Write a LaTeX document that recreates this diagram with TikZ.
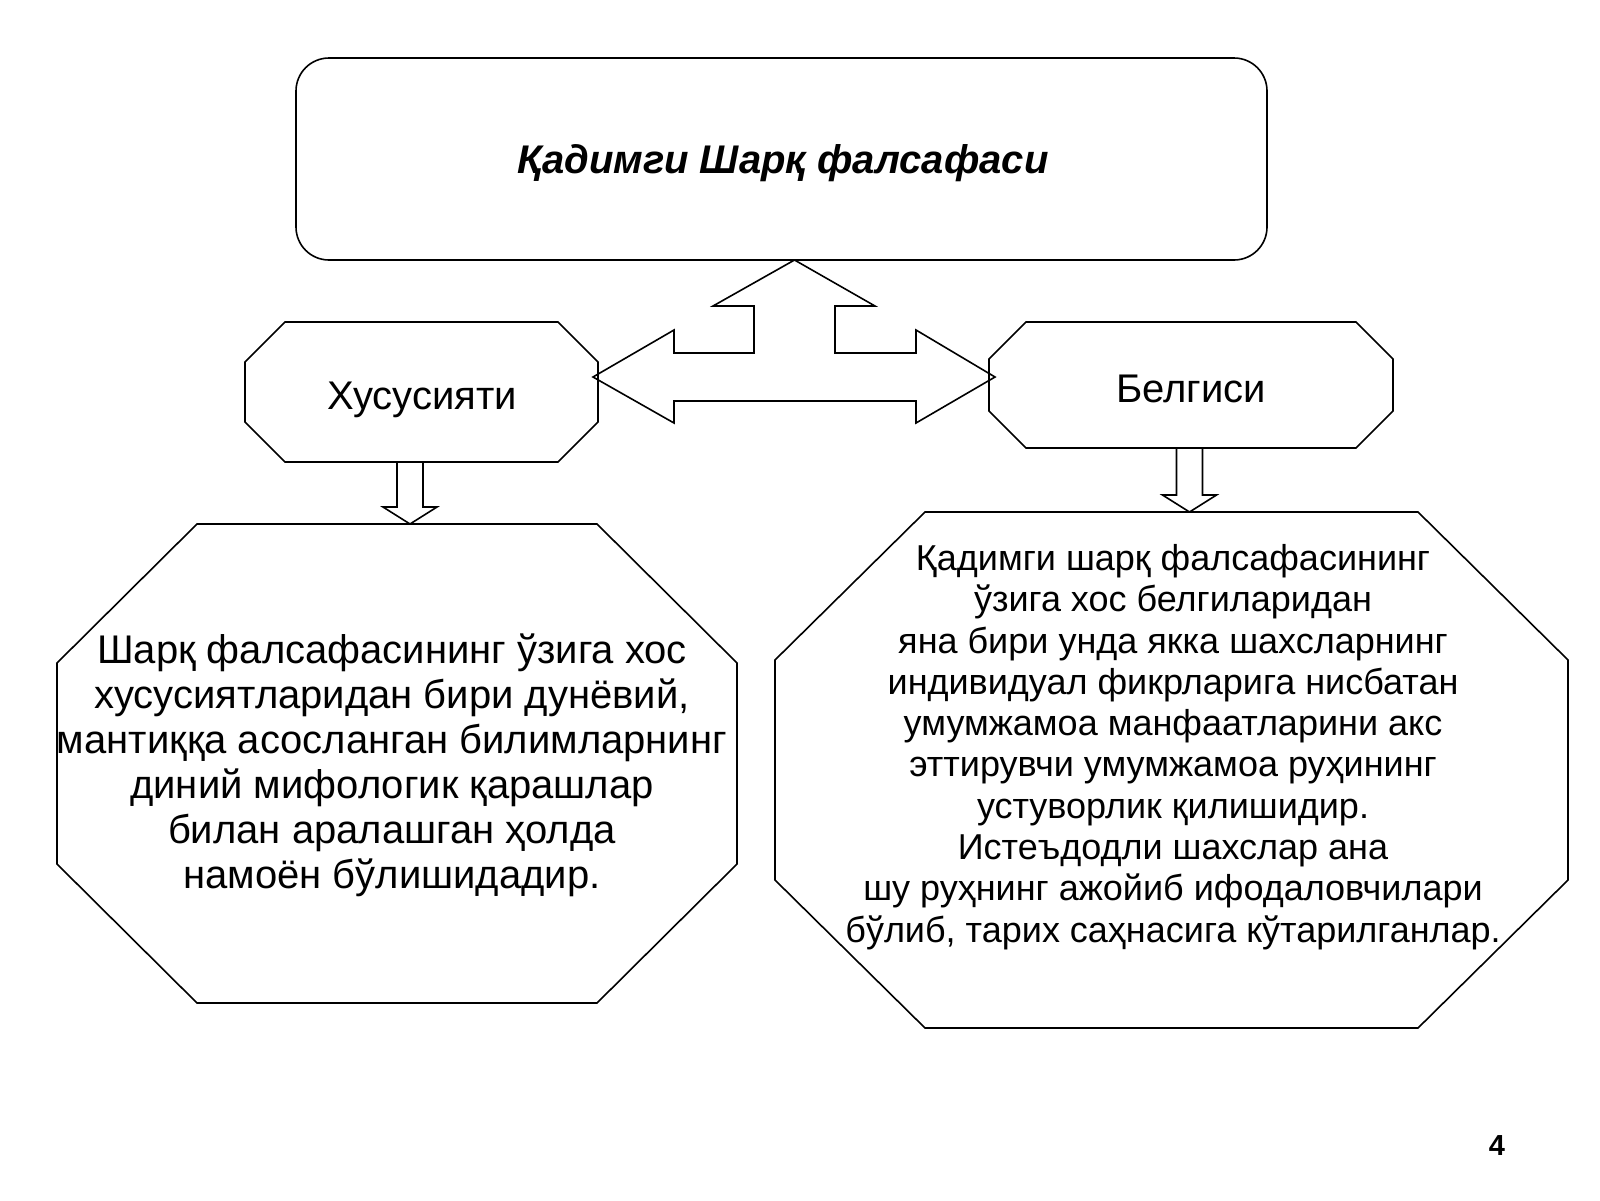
\documentclass[tikz,border=0pt]{standalone}
\usepackage{fontspec}
\setmainfont{Liberation Sans}
\usetikzlibrary{calc}
\tikzset{
  shapeline/.style={draw=black, line width=1.6pt, line join=miter},
  frame/.style={rectangle, inner sep=0pt, outer sep=0pt},
  bigtxt/.style={align=center, inner sep=0pt, font=\fontsize{40}{45}\selectfont},
  smalltxt/.style={align=center, inner sep=0pt, font=\fontsize{36}{41.3}\selectfont},
}
% octagon outline around a named frame node: #1 node, #2 horizontal cut, #3 vertical cut
\newcommand\octoline[3]{%
  \draw[shapeline] ($(#1.north west)+(#2,0)$) -- ($(#1.north east)+(-#2,0)$)
    -- ($(#1.north east)+(0,#3)$) -- ($(#1.south east)+(0,-#3)$)
    -- ($(#1.south east)+(-#2,0)$) -- ($(#1.south west)+(#2,0)$)
    -- ($(#1.south west)+(0,-#3)$) -- ($(#1.north west)+(0,#3)$) -- cycle;}
% hollow block arrow pointing down from #1 to #2
\newcommand\blockdn[2]{%
  \draw[shapeline] ($(#1)+(-13,0)$) -- ($(#2)+(-13,-17)$) -- ($(#2)+(-27,-17)$)
    -- (#2) -- ($(#2)+(27,-17)$) -- ($(#2)+(13,-17)$) -- ($(#1)+(13,0)$);}
\begin{document}
\begin{tikzpicture}[x=1pt, y=-1pt]
\useasboundingbox (0,0) rectangle (1600,1200);

% top box
\node[frame, draw, line width=1.6pt, rounded corners=33pt, minimum width=971pt, minimum height=202pt] (top) at (781.5,159) {};
\node[inner sep=0pt, font=\fontsize{40}{45}\selectfont\bfseries\itshape] (topt) at (783,163) {Қадимги Шарқ фалсафаси};

% small octagons
\node[frame, minimum width=353pt, minimum height=140pt] (hus) at (421.5,392) {};
\octoline{hus}{40}{40}
\node[bigtxt] (hust) at (422,400) {Хусусияти};

\node[frame, minimum width=404pt, minimum height=126pt] (bel) at (1191,385) {};
\octoline{bel}{37}{37}
\node[bigtxt] (belt) at (1191,389) {Белгиси};

% big octagons
\node[frame, minimum width=680pt, minimum height=479pt] (lt) at (397,763.5) {};
\octoline{lt}{140}{139}
\node[bigtxt] (ltt) at (392,765) {Шарқ фалсафасининг ўзига хос\\
хусусиятларидан бири дунёвий,\\
мантиққа асосланган билимларнинг\\
диний мифологик қарашлар\\
билан аралашган ҳолда\\
намоён бўлишидадир.};

\node[frame, minimum width=793pt, minimum height=516pt] (rt) at (1171.5,770) {};
\octoline{rt}{150}{148}
\node[smalltxt] (rtt) at (1173,747) {Қадимги шарқ фалсафасининг\\
ўзига хос белгиларидан\\
яна бири унда якка шахсларнинг\\
индивидуал фикрларига нисбатан\\
умумжамоа манфаатларини акс\\
эттирувчи умумжамоа руҳининг\\
устуворлик қилишидир.\\
Истеъдодли шахслар ана\\
шу руҳнинг ажойиб ифодаловчилари\\
бўлиб, тарих саҳнасига кўтарилганлар.};

% three-way block arrow
\coordinate (hub) at (794.5,377);
\coordinate (upTip) at (hub |- top.south);
\coordinate (lTip) at (593,377);
\coordinate (rTip) at (995,377);
\draw[shapeline] (upTip) -- ($(hub |- upTip)+(80.5,46)$) -- ($(hub |- upTip)+(40.5,46)$)
  -- ($(hub)+(40.5,-24)$) -- ($(hub)+(121.5,-24)$) -- ($(hub)+(121.5,-47)$)
  -- (rTip) -- ($(hub)+(121.5,46)$) -- ($(hub)+(121.5,24)$)
  -- ($(hub)+(-120.5,24)$) -- ($(hub)+(-120.5,46)$) -- (lTip)
  -- ($(hub)+(-120.5,-47)$) -- ($(hub)+(-120.5,-24)$) -- ($(hub)+(-40.5,-24)$)
  -- ($(hub |- upTip)+(-40.5,46)$) -- ($(hub |- upTip)+(-81.5,46)$) -- cycle;

% down block arrows
\coordinate (lax) at (410,0);
\coordinate (ls) at (lax |- hus.south);
\coordinate (le) at (lax |- lt.north);
\blockdn{ls}{le}
\coordinate (rax) at (1189.5,0);
\coordinate (rs) at (rax |- bel.south);
\coordinate (re) at (rax |- rt.north);
\blockdn{rs}{re}

% page number
\node[inner sep=0pt, font=\fontsize{29}{32}\selectfont\bfseries] (pg) at (1497,1146) {4};
\end{tikzpicture}
\end{document}
